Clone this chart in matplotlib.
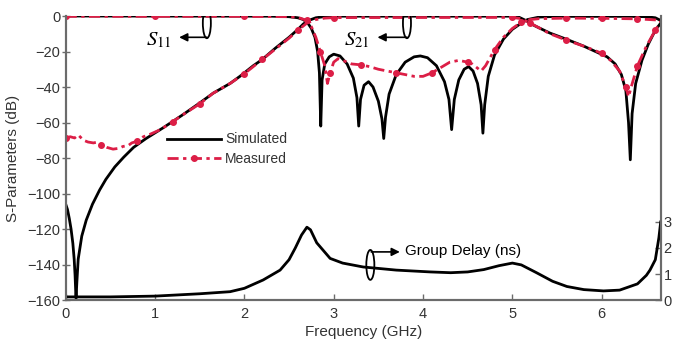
#!/usr/bin/env python3
"""
Filter S-parameters (simulated vs measured) with group delay on a second axis
"""

import numpy as np
import matplotlib
matplotlib.use('Agg')
import matplotlib.pyplot as plt
from matplotlib.patches import Ellipse

# Simulated S11 (dB)
s11_sim_f = [0.0, 2.3, 2.5, 2.6, 2.66, 2.71, 2.75, 2.79, 2.82, 2.84, 2.855, 2.87, 2.9, 2.95,
             3.0, 3.07, 3.15, 3.22, 3.26, 3.28, 3.30, 3.34, 3.39, 3.44, 3.5, 3.54, 3.56,
             3.58, 3.62, 3.7, 3.8, 3.9, 3.97, 4.05, 4.15, 4.24, 4.29, 4.32, 4.35, 4.4,
             4.46, 4.51, 4.56, 4.61, 4.65, 4.67, 4.69, 4.73, 4.8, 4.9, 5.0, 5.1, 5.17,
             5.3, 5.5, 6.3, 6.5, 6.6, 6.66]
s11_sim_db = [0.0, -0.1, -0.4, -1.0, -2.0, -4.0, -7.0, -12.0, -20.0, -32.0, -62.0, -36.0,
              -27.0, -23.0, -21.5, -22.5, -27.0, -35.0, -46.0, -62.0, -47.0, -39.0, -37.0,
              -40.0, -48.0, -58.0, -69.0, -57.0, -44.0, -33.0, -26.0, -23.0, -22.5, -23.5,
              -28.0, -37.0, -47.0, -64.0, -47.0, -36.0, -30.0, -28.5, -31.0, -38.0, -50.0,
              -66.0, -50.0, -34.0, -22.0, -13.0, -7.5, -4.0, -2.0, -0.6, -0.2, -0.2, -0.4,
              -1.0, -2.5]

# Simulated S21 (dB)
s21_sim_f = [0.0, 0.02, 0.04, 0.06, 0.08, 0.095, 0.105, 0.112, 0.116, 0.125, 0.14, 0.18,
             0.23, 0.3, 0.38, 0.45, 0.55, 0.65, 0.76, 0.9, 1.09, 1.3, 1.5, 1.65, 1.84,
             1.95, 2.1, 2.2, 2.35, 2.5, 2.6, 2.66, 2.72, 2.8, 2.9, 3.0, 5.0, 5.07, 5.15,
             5.25, 5.42, 5.6, 5.8, 6.06, 6.15, 6.22, 6.27, 6.3, 6.32, 6.34, 6.38, 6.45,
             6.52, 6.6, 6.66]
s21_sim_db = [-106.0, -109.0, -114.0, -120.0, -128.0, -137.0, -146.0, -155.0, -159.0,
              -150.0, -137.0, -124.0, -115.0, -106.0, -98.0, -92.0, -85.0, -79.5, -74.0,
              -69.0, -63.0, -56.0, -49.0, -43.5, -38.0, -34.0, -28.0, -24.5, -18.0, -12.0,
              -7.5, -4.5, -2.5, -1.0, -0.3, -0.1, -0.1, -0.6, -2.5, -5.5, -9.6, -13.0,
              -17.0, -23.0, -27.0, -33.0, -42.0, -60.0, -81.0, -55.0, -38.0, -25.0, -16.0,
              -8.0, -4.0]

# Measured S11 (dB)
s11_meas_f = [0.0, 1.0, 2.0, 2.5, 2.6, 2.7, 2.75, 2.8, 2.85, 2.9, 2.93, 2.96, 3.0, 3.05,
              3.1, 3.2, 3.3, 3.4, 3.5, 3.6, 3.7, 3.8, 3.9, 4.0, 4.1, 4.2, 4.3, 4.4, 4.5,
              4.55, 4.6, 4.65, 4.7, 4.8, 4.9, 5.0, 5.1, 5.2, 5.3, 5.6, 6.0, 6.4, 6.6, 6.66]
s11_meas_db = [-0.2, -0.2, -0.2, -0.4, -0.8, -2.5, -6.0, -12.0, -20.0, -28.0, -38.0, -32.0,
               -26.0, -24.0, -25.0, -27.0, -27.5, -28.5, -30.0, -31.0, -32.0, -33.0, -34.0,
               -34.0, -32.0, -29.0, -26.0, -25.0, -26.0, -27.0, -29.0, -31.0, -28.0, -19.0,
               -12.0, -7.0, -3.5, -2.0, -1.5, -1.2, -1.3, -1.6, -2.2, -3.0]

# Measured S21 (dB)
s21_meas_f = [0.0, 0.05, 0.1, 0.14, 0.2, 0.25, 0.31, 0.36, 0.4, 0.46, 0.53, 0.6, 0.64,
              0.7, 0.74, 0.8, 0.87, 0.95, 1.06, 1.2, 1.3, 1.5, 1.65, 1.84, 2.0, 2.2, 2.35,
              2.5, 2.6, 2.7, 2.8, 2.9, 3.0, 5.0, 5.1, 5.2, 5.42, 5.6, 5.8, 6.0, 6.1, 6.2,
              6.27, 6.3, 6.33, 6.4, 6.5, 6.6, 6.66]
s21_meas_db = [-69.0, -68.0, -68.7, -67.0, -70.0, -71.0, -71.5, -71.0, -72.5, -74.0, -75.0,
               -74.5, -73.5, -73.0, -71.5, -70.5, -68.0, -66.5, -64.0, -59.5, -56.0, -49.5,
               -43.5, -38.0, -32.5, -24.5, -18.5, -12.5, -8.0, -4.0, -2.0, -1.2, -0.9, -0.8,
               -1.5, -4.0, -10.0, -13.5, -17.0, -21.0, -25.0, -31.0, -40.0, -45.5, -40.0,
               -28.0, -17.0, -8.0, -3.0]

# Simulated group delay (ns)
gd_f = [0.0, 0.5, 1.0, 1.5, 1.84, 2.0, 2.21, 2.4, 2.5, 2.57, 2.64, 2.70, 2.74, 2.81,
        2.96, 3.1, 3.33, 3.7, 4.08, 4.31, 4.5, 4.68, 4.85, 5.0, 5.1, 5.27, 5.45, 5.61,
        5.8, 6.02, 6.2, 6.4, 6.5, 6.54, 6.6, 6.64, 6.66]
gd_ns = [0.12, 0.12, 0.15, 0.24, 0.32, 0.45, 0.77, 1.15, 1.55, 2.0, 2.5, 2.8, 2.7, 2.2,
         1.6, 1.42, 1.27, 1.15, 1.08, 1.05, 1.08, 1.17, 1.32, 1.42, 1.35, 1.05, 0.72,
         0.52, 0.40, 0.35, 0.38, 0.62, 0.95, 1.15, 1.55, 2.4, 3.0]

BLACK = '#000000'
RED = '#DC1E46'
GRAY = '#6b6b6b'
TXT = '#333333'

plt.rcParams['font.family'] = ['Liberation Sans', 'DejaVu Sans']
plt.rcParams['mathtext.fontset'] = 'stix'

fig = plt.figure(figsize=(6.8, 3.45), dpi=100)
ax = fig.add_axes([0.0966, 0.1304, 0.875, 0.8232])
ax2 = ax.twinx()

dash = (0, (4, 1.6, 1.2, 1.6))

ax.plot(s11_sim_f, s11_sim_db, color=BLACK, lw=2.0, zorder=3, label='Simulated')
ax.plot(s21_sim_f, s21_sim_db, color=BLACK, lw=2.0, zorder=3)
ax.plot(s11_meas_f, s11_meas_db, color=RED, lw=2.0, ls=dash, marker='o', ms=4,
        markevery=0.06, zorder=4, label='Measured')
ax.plot(s21_meas_f, s21_meas_db, color=RED, lw=2.0, ls=dash, marker='o', ms=4,
        markevery=0.06, zorder=4)

ax2.plot(gd_f, gd_ns, color=BLACK, lw=2.0)

ax.set_xlim(0, 6.66)
ax.set_ylim(-160, 0)
ax.set_xticks(range(0, 7))
ax.set_yticks(range(-160, 1, 20))
ax2.set_ylim(0, 10.92)
ax2.set_yticks([0, 1, 2, 3])

for a in (ax, ax2):
    for s in a.spines.values():
        s.set_color(GRAY)
        s.set_linewidth(1.5)
    a.spines['top'].set_visible(False)
    a.tick_params(colors=GRAY, labelcolor=TXT, labelsize=10.5, width=1, length=4,
                  direction='in')
ax.tick_params(axis='y', direction='inout', length=6, pad=1)
ax.tick_params(axis='x', pad=5)
ax2.tick_params(axis='y', pad=2)

ax.set_xlabel('Frequency (GHz)', fontsize=11, color=TXT, labelpad=3)
ax.set_ylabel('S-Parameters (dB)', fontsize=11, color=TXT, labelpad=5)

leg = ax.legend(loc='upper left', bbox_to_anchor=(0.17, 0.59), frameon=False,
                fontsize=10, handlelength=3.9, handletextpad=0.3, labelspacing=0.38,
                borderpad=0, borderaxespad=0)
for t in leg.get_texts():
    t.set_color(TXT)

# S11 / S21 markers
for xc, xa, lab, xl in [(1.58, 1.27, r'$S_{11}$', 1.04), (3.82, 3.49, r'$S_{21}$', 3.26)]:
    ax.add_patch(Ellipse((xc, -4), 0.09, 17, fill=False, ec=BLACK, lw=1.3, zorder=6))
    ax.annotate('', xy=(xa, -12), xytext=(xc, -12),
                arrowprops=dict(arrowstyle='-|>', color=BLACK, lw=1.2,
                                mutation_scale=12, shrinkA=0, shrinkB=0))
    ax.text(xl, -13.5, lab, fontsize=15, ha='center', va='center', color=BLACK)

# group delay marker
ax2.add_patch(Ellipse((3.41, 1.35), 0.09, 1.15, fill=False, ec=BLACK, lw=1.3, zorder=6))
ax2.annotate('', xy=(3.74, 1.85), xytext=(3.42, 1.85),
             arrowprops=dict(arrowstyle='-|>', color=BLACK, lw=1.2,
                             mutation_scale=12, shrinkA=0, shrinkB=0))
ax2.text(3.8, 1.88, 'Group Delay (ns)', fontsize=11, ha='left', va='center', color=BLACK)

plt.savefig('out.png', dpi=100, facecolor='white')
